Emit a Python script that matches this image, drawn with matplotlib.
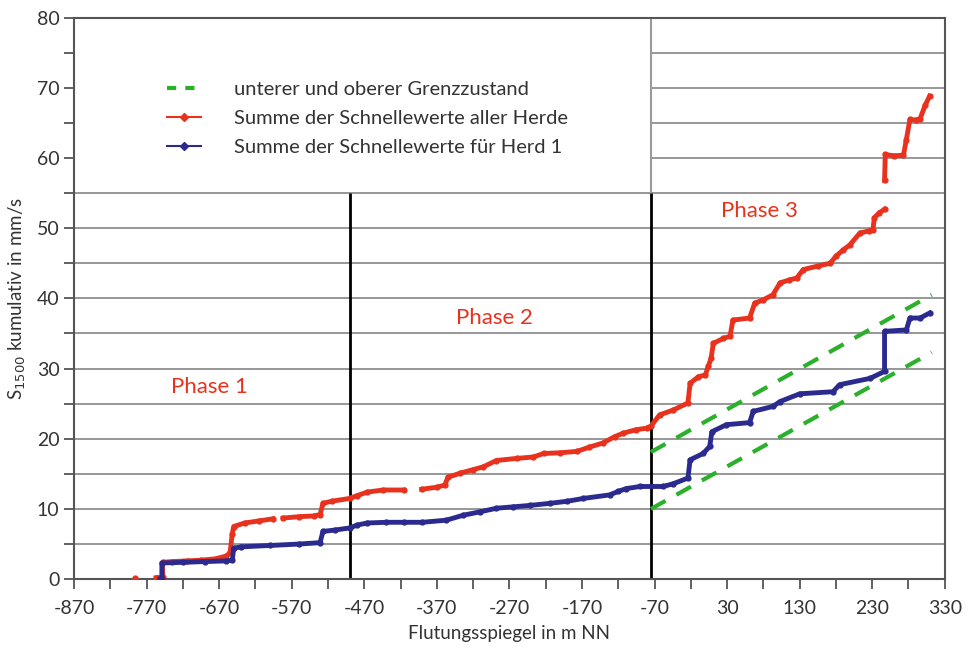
import numpy as np
import matplotlib.pyplot as plt
from matplotlib.patches import Rectangle
from matplotlib.lines import Line2D

plt.rcParams['font.family'] = ['Lato', 'DejaVu Sans']
plt.rcParams['axes.unicode_minus'] = False

nan = np.nan

# Summe der Schnellewerte aller Herde (rot)
red_x = [-786, nan, -757, -748, -748, -735, -715, -695, -675, -660, -655, -652, -650, -635, -615, -596, nan,
         -582, -560, -540, -531, -527, -515, -490, -480, -466, -444, -416, nan,
         -391, -370, -359, -355, -338, -320, -306, -288, -260, -237, -223, -200, -177, -160, -141, -125, -113,
         -95, -81, -75, -63, -44, -24, -21, -10, 0, 4, 8, 11, 25, 34, 38, 61, 68, 80, 93, 103, 115, 126,
         135, 155, 172, 180, 190, 199, 213, 225, 231, 233, 240, 247, nan,
         247, 248, 260, 273, 277, 282, 290, 296, 303, 309]
red_y = [0.1, nan, 0.2, 0.3, 2.4, 2.5, 2.6, 2.7, 2.9, 3.3, 3.8, 6.5, 7.5, 8.0, 8.3, 8.6, nan,
         8.7, 8.9, 9.0, 9.2, 10.8, 11.1, 11.5, 11.9, 12.4, 12.7, 12.7, nan,
         12.8, 13.1, 13.4, 14.5, 15.1, 15.6, 16.0, 16.9, 17.2, 17.4, 17.9, 18.0, 18.2, 18.8, 19.4, 20.3, 20.8,
         21.3, 21.5, 21.8, 23.4, 24.1, 25.1, 27.9, 28.8, 29.1, 30.3, 31.5, 33.6, 34.3, 34.6, 36.9, 37.2, 39.3,
         39.8, 40.5, 42.2, 42.6, 42.9, 44.1, 44.6, 45.0, 46.0, 46.9, 47.6, 49.3, 49.6, 49.8, 51.5, 52.2, 52.7, nan,
         56.8, 60.5, 60.3, 60.4, 62.6, 65.5, 65.4, 65.6, 67.5, 68.8]

# Summe der Schnellewerte fuer Herd 1 (blau)
blue_x = [-752, -749, -749, -720, -690, -660, -652, -650, -640, -600, -560, -531, -527, -510, -490, -480,
          -466, -440, -416, -390, -357, -334, -310, -288, -265, -242, -214, -190, -168, -132, -120, -109,
          -90, -58, -44, -24, -21, -3, 6, 9, 29, 61, 66, 93, 103, 130, 176, 185, 227, 247, 247, 277, 282,
          296, 309]
blue_y = [0.0, 0.0, 2.3, 2.4, 2.5, 2.6, 2.7, 4.4, 4.6, 4.8, 5.0, 5.2, 6.8, 7.0, 7.3, 7.7,
          8.0, 8.1, 8.1, 8.1, 8.4, 9.1, 9.6, 10.1, 10.3, 10.5, 10.8, 11.1, 11.5, 12.0, 12.5, 12.9,
          13.2, 13.2, 13.6, 14.4, 17.0, 17.9, 18.9, 21.0, 22.0, 22.3, 23.9, 24.6, 25.3, 26.4, 26.7, 27.7,
          28.6, 29.6, 35.3, 35.5, 37.2, 37.2, 37.9]

# unterer und oberer Grenzzustand
grenz_x = [-75, 312]
grenz_oben = [18.1, 40.5]
grenz_unten = [10.0, 32.3]

phase_grenzen = [-490, -75]
x_ticks = list(range(-870, 331, 100))

red = '#e8321e'
blue = '#2b2a8e'
green = '#2bb02b'

fig = plt.figure(figsize=(9.75, 6.5), dpi=100)
ax = fig.add_axes([0.076, 0.109, 0.893, 0.864])

# Gitterlinien
for y in range(5, 80, 5):
    ax.axhline(y, color='#8f8f8f', lw=1.3, zorder=0)

# weisses Feld hinter der Legende
ax.add_patch(Rectangle((-870, 55.25), 795, 24.75, facecolor='white', edgecolor='none', zorder=0.5))
ax.vlines(-75, 55, 80, color='#9a9a9a', lw=1.5, zorder=0.6)

# Phasengrenzen
ax.vlines(phase_grenzen, 0, 55, color='black', lw=2, zorder=1)

ax.plot(grenz_x, grenz_oben, color=green, lw=3, dashes=(4, 3), zorder=2)
ax.plot(grenz_x, grenz_unten, color=green, lw=3, dashes=(4, 3), zorder=2)
ax.plot(red_x, red_y, '-', color=red, lw=3.5, marker='o', ms=3.5, zorder=3)
ax.plot(blue_x, blue_y, '-', color=blue, lw=3.5, marker='o', ms=3.5, zorder=3)

ax.text(-683, 27.4, 'Phase 1', color=red, fontsize=16, ha='center', va='center')
ax.text(-291, 37.2, 'Phase 2', color=red, fontsize=16, ha='center', va='center')
ax.text(75, 52.4, 'Phase 3', color=red, fontsize=16, ha='center', va='center')

ax.set_xlim(-870, 330)
ax.set_ylim(0, 80)
ax.set_xticks(x_ticks)
ax.set_xticks(range(-820, 331, 100), minor=True)
ax.set_yticks(range(0, 81, 10))
ax.set_yticks(range(5, 80, 10), minor=True)
ax.tick_params(which='both', direction='out', length=7, width=1.3, color='#555555',
               labelsize=14, labelcolor='#333333')
ax.tick_params(axis='x', pad=8)
for s in ax.spines.values():
    s.set_color('#555555')
    s.set_linewidth(1.5)

ax.set_xlabel('Flutungsspiegel in m NN', fontsize=13.5, color='#333333', labelpad=6)
ax.set_ylabel('S$_{1500}$ kumulativ in mm/s', fontsize=13.5, color='#333333', labelpad=6)

handles = [Line2D([], [], color=green, lw=3, dashes=(2.2, 2.2)),
           Line2D([], [], color=red, lw=1.5, marker='D', ms=4),
           Line2D([], [], color=blue, lw=1.5, marker='D', ms=4)]
labels = ['unterer und oberer Grenzzustand',
          'Summe der Schnellewerte aller Herde',
          'Summe der Schnellewerte für Herd 1']
leg = ax.legend(handles, labels, loc='upper left', bbox_to_anchor=(0.107, 0.887), frameon=False,
                borderpad=0, borderaxespad=0, fontsize=14.5, handlelength=1.7,
                handletextpad=1.6, labelspacing=0.6, numpoints=1)
for t in leg.get_texts():
    t.set_color('#333333')

fig.savefig('out.png', dpi=100)
